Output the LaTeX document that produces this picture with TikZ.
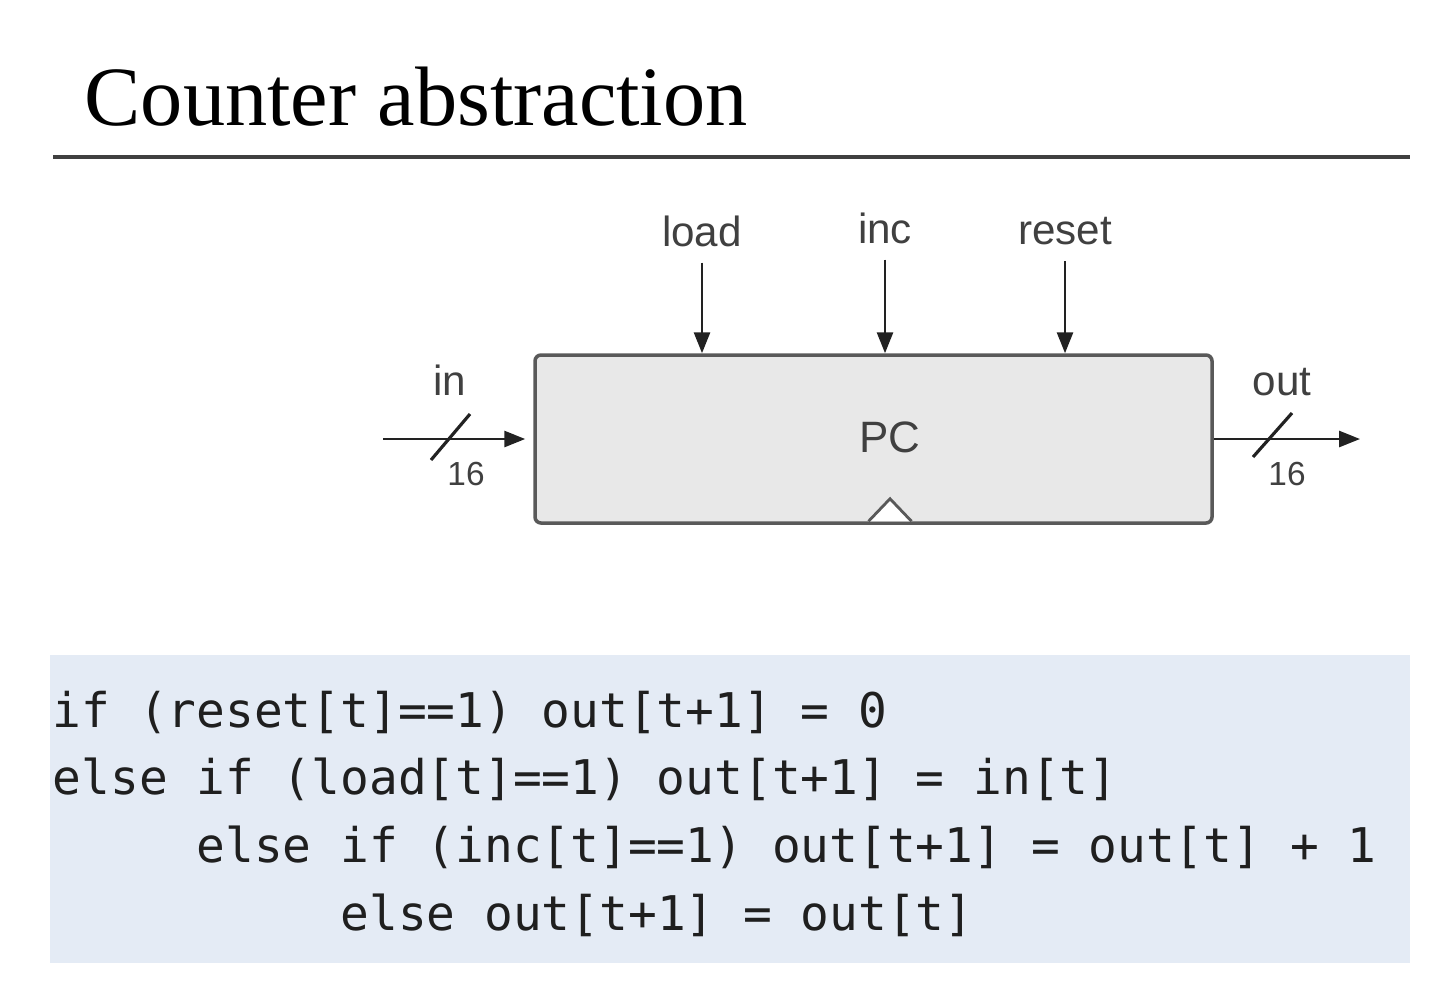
\documentclass[tikz,border=0pt]{standalone}
\usepackage{fontspec}
\setmainfont{Liberation Serif}
\newfontfamily\sigfont{Liberation Sans}
\newfontfamily\codefont{DejaVu Sans Mono}
\usepackage{xcolor}
\usetikzlibrary{positioning, arrows.meta}
\definecolor{boxfill}{HTML}{E8E8E8}
\definecolor{codefill}{HTML}{E4EBF5}
\definecolor{wirecol}{HTML}{222222}

\begin{document}
\begin{tikzpicture}[>={Triangle[length=2.1mm,width=1.6mm]},
    block/.style={draw=black!65, fill=boxfill, line width=1pt, rounded corners=0.6mm, minimum width=6.77cm, minimum height=1.68cm},
    sig/.style={inner sep=1pt, text=black!75, font=\sigfont\fontsize{12}{14}\selectfont},
    buswidth/.style={inner sep=1pt, text=black!75, font=\sigfont\fontsize{9.5}{11}\selectfont},
    wire/.style={draw=wirecol, line width=0.8pt},
    code/.style={anchor=base west, inner sep=0pt, text=black!88, font=\codefont\fontsize{13.6}{16}\selectfont}]
    \useasboundingbox (0,0) rectangle (14.36,9.86);

    % Title and rule
    \node[anchor=base west, inner sep=0pt, font=\fontsize{24}{28}\selectfont] (title) at (0.84,8.61) {Counter abstraction};
    \coordinate (ruleL) at (0.53,8.29);
    \coordinate (ruleR) at (14.10,8.29);
    \draw[black!75, line width=1.1pt] (ruleL) -- (ruleR);

    % The counter chip
    \node[block] (pc) at (8.735,5.47) {};
    \node[sig, font=\sigfont\fontsize{12.5}{14}\selectfont] (pclbl) at (8.90,5.49) {PC};
    \coordinate (clk) at (pc.south -| pclbl);
    \filldraw[draw=black!65, fill=white, line width=0.8pt] ([xshift=-2.15mm, yshift=0.35mm]clk) -- ([yshift=2.6mm]clk) -- ([xshift=2.15mm, yshift=0.35mm]clk);

    % Control inputs
    \node[sig] (lload) at (7.02,7.55) {load};
    \node[sig] (linc) at (8.85,7.58) {inc};
    \node[sig] (lreset) at (10.65,7.55) {reset};
    \draw[wire, ->, shorten <=1.2mm] (lload.south) -- (lload.south |- pc.north);
    \draw[wire, ->, shorten <=1.2mm] (linc.south) -- (linc.south |- pc.north);
    \draw[wire, ->, shorten <=1.2mm] (lreset.south) -- (lreset.south |- pc.north);

    % Data in and out
    \coordinate (src) at (3.83,5.47);
    \coordinate (dst) at (13.60,5.47);
    \draw[wire, ->, shorten >=0.8mm] (src) -- (pc.west);
    \draw[wire, ->] (pc.east) -- (dst);
    \coordinate (busin) at (4.49,5.47);
    \coordinate (busout) at (12.75,5.47);
    \draw[wire, line width=0.9pt] ([shift={(-0.18,-0.21)}]busin) -- ([shift={(0.21,0.25)}]busin);
    \draw[wire, line width=0.9pt] ([shift={(-0.22,-0.18)}]busout) -- ([shift={(0.17,0.26)}]busout);
    \node[sig] (lin) at (4.50,6.06) {in};
    \node[buswidth] (win) at (4.66,5.12) {16};
    \node[sig] (lout) at (12.82,6.04) {out};
    \node[buswidth] (wout) at (12.87,5.12) {16};

    % Behaviour
    \node[fill=codefill, minimum width=13.60cm, minimum height=3.08cm, inner sep=0pt] (codebg) at (7.30,1.77) {};
    \node[code] (c1) at (0.52,2.59) {if (reset[t]==1) out[t+1] = 0};
    \node[code] (c2) at ([yshift=-0.677cm]c1.base west) {else if (load[t]==1) out[t+1] = in[t]};
    \node[code] (c3) at ([yshift=-0.677cm]c2.base west) {\hphantom{else }else if (inc[t]==1) out[t+1] = out[t] + 1};
    \node[code] (c4) at ([yshift=-0.677cm]c3.base west) {\hphantom{else else }else out[t+1] = out[t]};
\end{tikzpicture}
\end{document}
